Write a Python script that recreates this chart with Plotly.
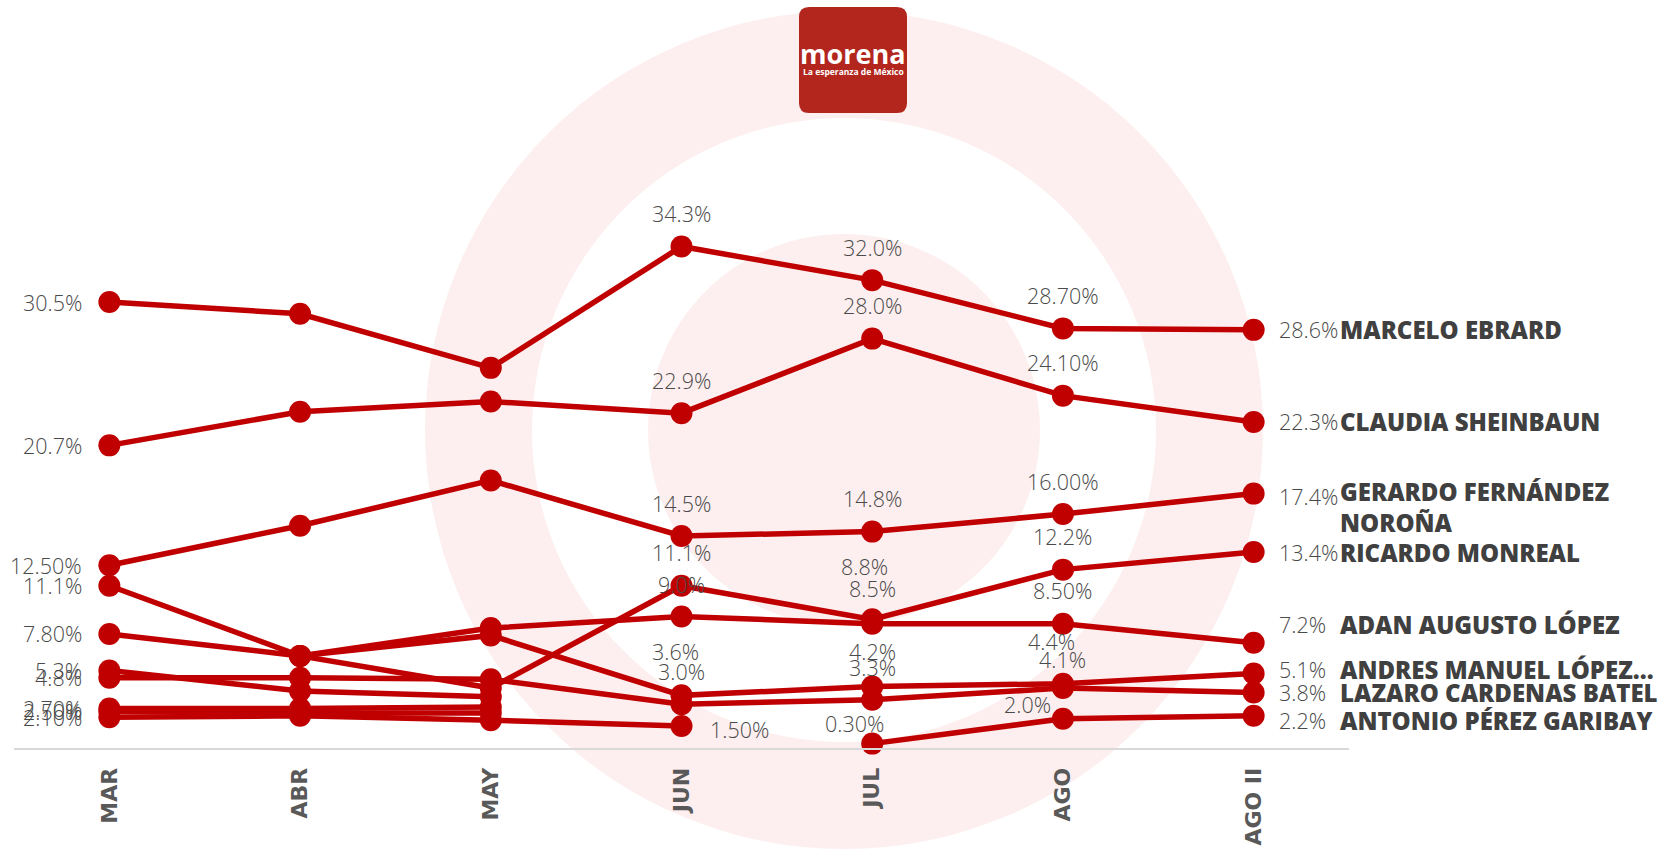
import plotly.graph_objects as go

# ---------------- data ----------------
months = ["MAR", "ABR", "MAY", "JUN", "JUL", "AGO", "AGO II"]

ebrard    = [30.5, 29.7, 26.0, 34.3, 32.0, 28.7, 28.6]
sheinbaum = [20.7, 23.0, 23.7, 22.9, 28.0, 24.1, 22.3]
norona    = [12.5, 15.2, 18.3, 14.5, 14.8, 16.0, 17.4]
monreal   = [11.1, 6.3, 4.1, 11.1, 8.8, 12.2, 13.4]
adan      = [7.8, 6.3, 8.2, 9.0, 8.5, 8.5, 7.2]
amlo      = [None, 6.3, 7.7, 3.6, 4.2, 4.4, 5.1]
lazaro    = [4.8, 4.8, 4.7, 3.0, 3.3, 4.1, 3.8]
garibay   = [None, None, None, None, 0.3, 2.0, 2.2]
otro_a    = [5.3, 3.9, 3.5, None, None, None, None]
otro_b    = [2.7, 2.7, 2.8, None, None, None, None]
otro_c    = [2.5, 2.4, 2.4, None, None, None, None]
otro_d    = [2.1, 2.2, 1.9, 1.5, None, None, None]

# data labels as printed on the chart
ebrard_lbl    = ["30.5%", None, None, "34.3%", "32.0%", "28.70%", "28.6%"]
sheinbaum_lbl = ["20.7%", None, None, "22.9%", "28.0%", "24.10%", "22.3%"]
norona_lbl    = ["12.50%", None, None, "14.5%", "14.8%", "16.00%", "17.4%"]
monreal_lbl   = ["11.1%", None, None, "11.1%", "8.8%", "12.2%", "13.4%"]
adan_lbl      = ["7.80%", None, None, "9.0%", "8.5%", "8.50%", "7.2%"]
amlo_lbl      = [None, None, None, "3.6%", "4.2%", "4.4%", "5.1%"]
lazaro_lbl    = ["4.8%", None, None, "3.0%", "3.3%", "4.1%", "3.8%"]
garibay_lbl   = [None, None, None, None, "0.30%", "2.0%", "2.2%"]
otro_a_lbl    = ["5.3%", None, None, None, None, None, None]
otro_b_lbl    = ["2.70%", None, None, None, None, None, None]
otro_c_lbl    = ["2.50%", None, None, None, None, None, None]
otro_d_lbl    = ["2.10%", None, None, "1.50%", None, None, None]

names = ["MARCELO EBRARD", "CLAUDIA SHEINBAUN", "GERARDO FERNÁNDEZ<br>NOROÑA",
         "RICARDO MONREAL", "ADAN AUGUSTO LÓPEZ", "ANDRES MANUEL LÓPEZ...",
         "LAZARO CARDENAS BATEL", "ANTONIO PÉREZ GARIBAY", None, None, None, None]

series = [ebrard, sheinbaum, norona, monreal, adan, amlo, lazaro, garibay,
          otro_a, otro_b, otro_c, otro_d]
labels = [ebrard_lbl, sheinbaum_lbl, norona_lbl, monreal_lbl, adan_lbl, amlo_lbl,
          lazaro_lbl, garibay_lbl, otro_a_lbl, otro_b_lbl, otro_c_lbl, otro_d_lbl]

# ---------------- styling ----------------
RED = "#C00000"
W, H = 1664, 849
ML, MR, MT, MB = 14, 315, 0, 101
PW, PH = W - ML - MR, H - MT - MB
YMAX = 51.16

# label offsets (series index, month index) -> (xshift, yshift)
label_shift = {
    (5, 5): (-11, 42), (6, 5): (0, 29), (7, 5): (-35, 14),
    (5, 3): (-6, 44), (11, 3): (58, -3), (3, 4): (-8, 53),
    (4, 4): (0, 35), (5, 4): (0, 35), (6, 4): (0, 32), (7, 4): (-18, 20),
    (4, 3): (0, 32),
}
end_pct_shift = {4: 18, 5: 4, 7: -5, 2: -3}
end_name_shift = {4: 18, 5: 4, 7: -5, 2: -13}

def P(px, py):
    return (px - ML) / PW, (MT + PH - py) / PH

fig = go.Figure()

# background target rings
cx, cy = 844, 430
for r, col in [(419, "#FDEFEF"), (312, "#FFFFFF"), (196, "#FDEFEF")]:
    x0, y0 = P(cx - r, cy + r)
    x1, y1 = P(cx + r, cy - r)
    fig.add_shape(type="circle", xref="paper", yref="paper", x0=x0, y0=y0, x1=x1, y1=y1,
                  fillcolor=col, line=dict(width=0), layer="below")

# logo
lx0, ly0, lx1, ly1, rr = 799, 7, 907, 113, 10
def pp(x, y):
    a, b = P(x, y)
    return f"{a:.5f},{b:.5f}"
path = (f"M {pp(lx0 + rr, ly0)} L {pp(lx1 - rr, ly0)} Q {pp(lx1, ly0)} {pp(lx1, ly0 + rr)} "
        f"L {pp(lx1, ly1 - rr)} Q {pp(lx1, ly1)} {pp(lx1 - rr, ly1)} "
        f"L {pp(lx0 + rr, ly1)} Q {pp(lx0, ly1)} {pp(lx0, ly1 - rr)} "
        f"L {pp(lx0, ly0 + rr)} Q {pp(lx0, ly0)} {pp(lx0 + rr, ly0)} Z")
fig.add_shape(type="path", path=path, xref="paper", yref="paper",
              fillcolor="#B3261E", line=dict(width=0), layer="above")
ax, ay = P(853, 54)
fig.add_annotation(x=ax, y=ay, xref="paper", yref="paper", text="<b>morena</b>", showarrow=False,
                   font=dict(family="Open Sans", size=27, color="white"), xanchor="center", yanchor="middle")
ax, ay = P(853, 71)
fig.add_annotation(x=ax, y=ay, xref="paper", yref="paper", text="<b>La esperanza de México</b>", showarrow=False,
                   font=dict(family="Open Sans", size=8.5, color="white"), xanchor="center", yanchor="middle")

# lines
for vals in series:
    fig.add_trace(go.Scatter(x=months, y=vals, mode="lines+markers", connectgaps=False,
                             line=dict(color=RED, width=5.5),
                             marker=dict(size=22, color=RED), cliponaxis=False,
                             hoverinfo="skip"))

# labels
lab_font = dict(family="Open Sans", size=21.5, color="#4a4a4a", weight=300)
name_font = dict(family="Open Sans", size=24, color="#404040", weight=800)
for si, (vals, lbls) in enumerate(zip(series, labels)):
    for mi, (v, t) in enumerate(zip(vals, lbls)):
        if t is None or v is None:
            continue
        if mi == 0:
            fig.add_annotation(x=months[mi], y=v, text=t, showarrow=False, xanchor="right",
                               yanchor="middle", xshift=-25, font=lab_font)
        elif mi == len(months) - 1:
            fig.add_annotation(x=months[mi], y=v, text=t, showarrow=False, xanchor="left",
                               yanchor="middle", xshift=23, yshift=end_pct_shift.get(si, 0),
                               font=lab_font)
            if names[si]:
                fig.add_annotation(x=months[mi], y=v, text=names[si], showarrow=False, xanchor="left",
                                   yanchor="middle", align="left", xshift=84,
                                   yshift=end_name_shift.get(si, 0), font=name_font)
        else:
            xs, ys = label_shift.get((si, mi), (0, 33))
            fig.add_annotation(x=months[mi], y=v, text=t, showarrow=False, xanchor="center",
                               yanchor="middle", xshift=xs, yshift=ys, font=lab_font)

fig.update_layout(
    width=W, height=H, margin=dict(l=ML, r=MR, t=MT, b=MB),
    paper_bgcolor="white", plot_bgcolor="rgba(0,0,0,0)", showlegend=False,
    xaxis=dict(type="category", categoryarray=months, range=[-0.5, 6.5], showgrid=False,
               zeroline=False, showline=True, linecolor="#D9D9D9", linewidth=2, ticks="",
               tickangle=-90, ticklabelstandoff=9,
               tickfont=dict(family="DejaVu Sans", size=22, color="#595959", weight=700)),
    yaxis=dict(range=[0, YMAX], visible=False),
)

fig.write_html("out.html", config=dict(displayModeBar=False),
               post_script="document.body.style.margin='0';")
